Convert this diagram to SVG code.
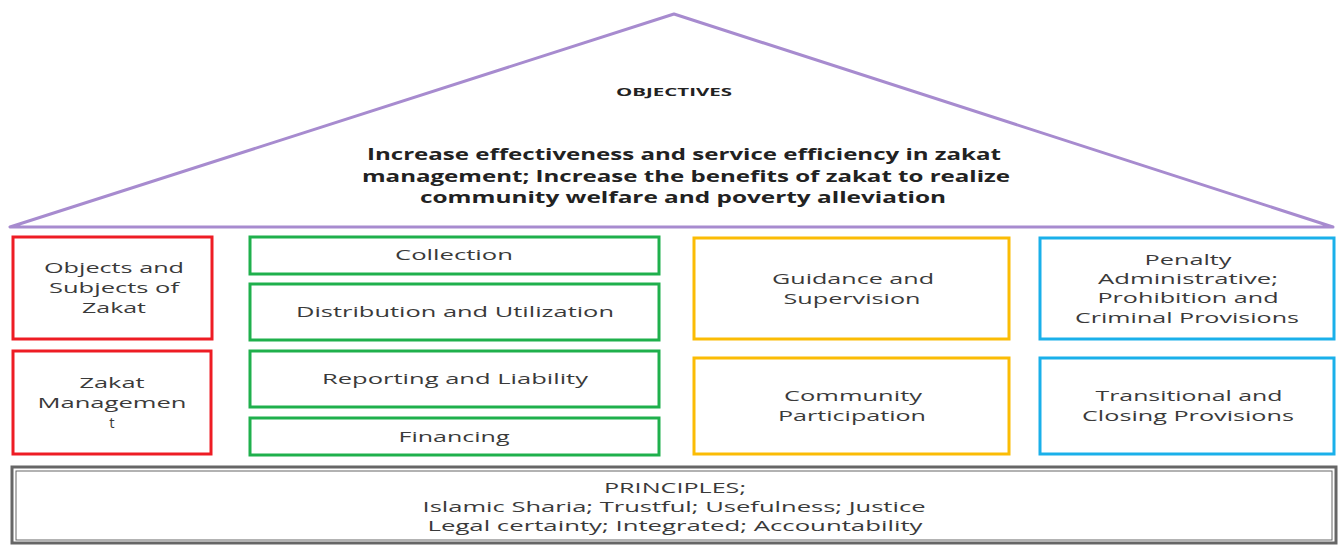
<svg xmlns="http://www.w3.org/2000/svg" width="1343" height="545" viewBox="0 0 1343 545">
<style>
.t{font-family:"Open Sans","Liberation Sans",sans-serif;font-size:15px;fill:#3a3a3a;text-anchor:middle}
.o{font-family:"Open Sans","Liberation Sans",sans-serif;font-size:16px;font-weight:bold;fill:#222;text-anchor:middle}
.b{fill:#fff;stroke-width:3}
.red{stroke:#ee1c24}.grn{stroke:#1fb04c}.yel{stroke:#fbbc05}.blu{stroke:#1ab0ea}
</style>
<rect width="1343" height="545" fill="#fff"/>
<g id="roof">
<polygon points="674,14 10,227 1333,227" fill="#fff" stroke="#a78bcf" stroke-width="3" stroke-linejoin="round"/>
<text x="674" y="96" font-family="Open Sans, Liberation Sans, sans-serif" font-size="11" font-weight="bold" fill="#222" text-anchor="middle" textLength="116" lengthAdjust="spacingAndGlyphs">OBJECTIVES</text>
<text class="o" x="684" y="160" textLength="634" lengthAdjust="spacingAndGlyphs">Increase effectiveness and service efficiency in zakat</text>
<text class="o" x="686" y="182" textLength="648" lengthAdjust="spacingAndGlyphs">management; Increase the benefits of zakat to realize</text>
<text class="o" x="683" y="203" textLength="526" lengthAdjust="spacingAndGlyphs">community welfare and poverty alleviation</text>
</g>
<g id="objects"><rect class="b red" x="13" y="237" width="199" height="102"/>
<text class="t" x="114" y="273" textLength="140" lengthAdjust="spacingAndGlyphs">Objects and</text>
<text class="t" x="114" y="293" textLength="130" lengthAdjust="spacingAndGlyphs">Subjects of</text>
<text class="t" x="114" y="313" textLength="64" lengthAdjust="spacingAndGlyphs">Zakat</text></g>
<g id="management"><rect class="b red" x="13" y="351" width="198" height="103"/>
<text class="t" x="112" y="388" textLength="65" lengthAdjust="spacingAndGlyphs">Zakat</text>
<text class="t" x="112" y="408" textLength="149" lengthAdjust="spacingAndGlyphs">Managemen</text>
<text class="t" x="112" y="428">t</text></g>
<g id="collection"><rect class="b grn" x="250" y="237" width="409" height="37"/><text class="t" x="454" y="260" textLength="118" lengthAdjust="spacingAndGlyphs">Collection</text></g>
<g id="distribution"><rect class="b grn" x="250" y="284" width="409" height="56"/><text class="t" x="455" y="317" textLength="318" lengthAdjust="spacingAndGlyphs">Distribution and Utilization</text></g>
<g id="reporting"><rect class="b grn" x="250" y="351" width="409" height="56"/><text class="t" x="455" y="384" textLength="266" lengthAdjust="spacingAndGlyphs">Reporting and Liability</text></g>
<g id="financing"><rect class="b grn" x="250" y="418" width="409" height="37"/><text class="t" x="454" y="442" textLength="111" lengthAdjust="spacingAndGlyphs">Financing</text></g>
<g id="guidance"><rect class="b yel" x="694" y="238" width="315" height="101"/>
<text class="t" x="853" y="284" textLength="162" lengthAdjust="spacingAndGlyphs">Guidance and</text>
<text class="t" x="852" y="304" textLength="137" lengthAdjust="spacingAndGlyphs">Supervision</text></g>
<g id="community"><rect class="b yel" x="694" y="358" width="315" height="96"/>
<text class="t" x="853" y="401" textLength="138" lengthAdjust="spacingAndGlyphs">Community</text>
<text class="t" x="852" y="421" textLength="148" lengthAdjust="spacingAndGlyphs">Participation</text></g>
<g id="penalty"><rect class="b blu" x="1040" y="238" width="294" height="101"/>
<text class="t" x="1188" y="265" textLength="87" lengthAdjust="spacingAndGlyphs">Penalty</text>
<text class="t" x="1188" y="284" textLength="180" lengthAdjust="spacingAndGlyphs">Administrative;</text>
<text class="t" x="1188" y="303" textLength="181" lengthAdjust="spacingAndGlyphs">Prohibition and</text>
<text class="t" x="1187" y="323" textLength="224" lengthAdjust="spacingAndGlyphs">Criminal Provisions</text></g>
<g id="transitional"><rect class="b blu" x="1040" y="358" width="294" height="96"/>
<text class="t" x="1189" y="401" textLength="187" lengthAdjust="spacingAndGlyphs">Transitional and</text>
<text class="t" x="1188" y="421" textLength="212" lengthAdjust="spacingAndGlyphs">Closing Provisions</text></g>
<g id="principles">
<rect x="12" y="467" width="1324" height="76" fill="#fff" stroke="#666" stroke-width="3"/>
<rect x="16" y="471" width="1316" height="69" fill="none" stroke="#666" stroke-width="1"/>
<text class="t" x="675" y="493" textLength="142" lengthAdjust="spacingAndGlyphs">PRINCIPLES;</text>
<text class="t" x="674" y="512" textLength="503" lengthAdjust="spacingAndGlyphs">Islamic Sharia; Trustful; Usefulness; Justice</text>
<text class="t" x="675" y="531" textLength="495" lengthAdjust="spacingAndGlyphs">Legal certainty; Integrated; Accountability</text>
</g>
<g id="connectors"></g>
</svg>
